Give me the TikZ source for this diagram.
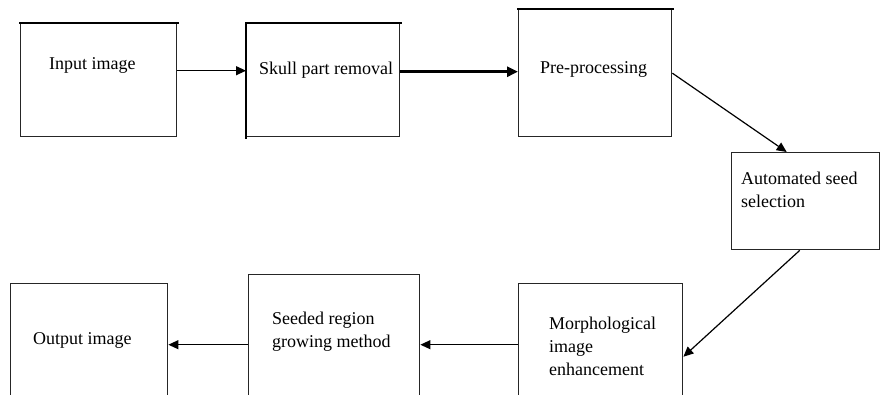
\documentclass[tikz,border=0pt]{standalone}
\usepackage{fontspec}
\setmainfont{Liberation Serif}
\usetikzlibrary{arrows.meta}
\begin{document}
\begin{tikzpicture}[x=1pt,y=-1pt,
  box/.style={draw=black!85, line width=1.4pt, rectangle, anchor=north west, inner sep=0pt},
  lbl/.style={anchor=west, align=left, inner sep=0pt, font=\fontsize{18}{23}\selectfont},
  arr/.style={line width=1.2pt, -{Triangle[length=10pt,width=9pt]}},
  heavy/.style={line width=2.4pt, line cap=rect}]
\useasboundingbox (0,0) rectangle (880,394);
\clip (0,0) rectangle (880,394);
\fill[white] (0,0) rectangle (880,394);
% boxes
\node[box, minimum width=156pt, minimum height=113pt] (in) at (20,23) {};
\node[box, minimum width=153pt, minimum height=113pt] (sk) at (246,23) {};
\node[box, minimum width=153pt, minimum height=127pt] (pre) at (518,9) {};
\node[box, minimum width=148pt, minimum height=97pt] (auto) at (731,152) {};
\node[box, minimum width=164pt, minimum height=130pt] (morph) at (518,283) {};
\node[box, minimum width=171pt, minimum height=140pt] (seed) at (248,274) {};
\node[box, minimum width=157pt, minimum height=130pt] (out) at (10,283) {};
% heavier edges
\draw[heavy] (in.north west) -- (in.north east);
\draw[heavy] (sk.north west) -- (sk.north east);
\draw[heavy] (sk.north west) -- (sk.south west);
\draw[heavy] (pre.north west) -- (pre.north east);
% labels
\node[lbl] (tin) at (49,65) {Input image};
\node[lbl] (tsk) at (259,70) {Skull part removal};
\node[lbl] (tpre) at (540,69) {Pre-processing};
\node[lbl] (tauto) at (741,190) {Automated seed\\selection};
\node[lbl] (tmorph) at (549,346) {Morphological\\image\\enhancement};
\node[lbl] (tseed) at (272,332) {Seeded region\\growing method};
\node[lbl] (tout) at (33,340) {Output image};
% connectors
\draw[arr] ([yshift=9.5pt]in.east) -- ([yshift=9.5pt]sk.west);
\draw[line width=3pt, -{Triangle[length=11pt,width=10pt]}] ([yshift=8.5pt]sk.east) -- ([yshift=1.5pt]pre.west);
\draw[arr] (pre.east) -- ([xshift=-19pt]auto.north);
\draw[arr] ([xshift=-6pt]auto.south) -- ([yshift=-8pt]morph.east);
\draw[arr] (morph.west |- seed.east) -- (seed.east);
\draw[arr] (seed.west) -- (out.east |- seed.west);
\end{tikzpicture}
\end{document}
